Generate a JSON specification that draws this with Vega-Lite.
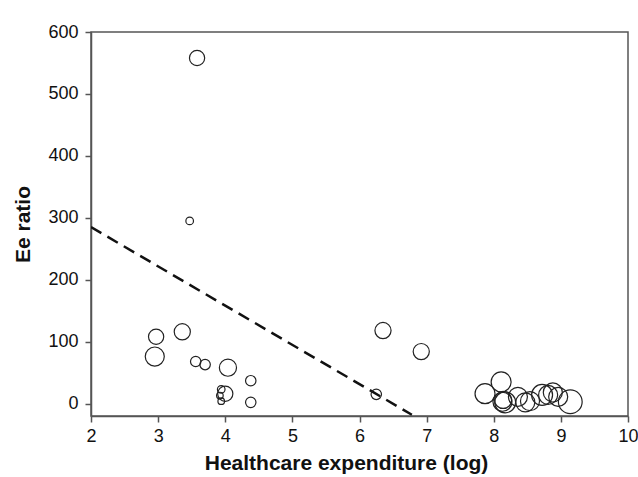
{
  "$schema": "https://vega.github.io/schema/vega-lite/v6.json",
  "autosize": {"type": "none"},
  "padding": {"left": 91, "top": 32, "right": 10, "bottom": 61},
  "width": 537,
  "height": 384,
  "background": "white",
  "config": {
    "view": {"stroke": "#555", "strokeWidth": 1.5},
    "axis": {
      "grid": false,
      "domainColor": "#555",
      "domainWidth": 1.5,
      "tickColor": "#555",
      "tickWidth": 1.5,
      "tickSize": 6,
      "labelFlush": false,
      "labelFont": "Liberation Sans",
      "labelFontSize": 18,
      "labelColor": "#111",
      "titleFont": "Liberation Sans",
      "titleFontSize": 21,
      "titleFontWeight": "bold",
      "titleColor": "#111"
    }
  },
  "datasets": {
    "countries": [
      {"hce": 3.58, "ee": 558, "n": 64},
      {"hce": 3.47, "ee": 295, "n": 16},
      {"hce": 2.97, "ee": 108, "n": 64},
      {"hce": 3.36, "ee": 116, "n": 72},
      {"hce": 2.95, "ee": 76, "n": 100},
      {"hce": 3.56, "ee": 68, "n": 30},
      {"hce": 3.70, "ee": 63, "n": 30},
      {"hce": 4.04, "ee": 58, "n": 81},
      {"hce": 4.38, "ee": 37, "n": 30},
      {"hce": 4.38, "ee": 2, "n": 30},
      {"hce": 4.00, "ee": 16, "n": 64},
      {"hce": 3.94, "ee": 23, "n": 16},
      {"hce": 3.92, "ee": 13, "n": 12},
      {"hce": 3.94, "ee": 4, "n": 12},
      {"hce": 6.25, "ee": 15, "n": 30},
      {"hce": 6.35, "ee": 118, "n": 72},
      {"hce": 6.92, "ee": 84, "n": 72},
      {"hce": 7.87, "ee": 16, "n": 110},
      {"hce": 8.11, "ee": 35, "n": 110},
      {"hce": 8.13, "ee": 3, "n": 100},
      {"hce": 8.17, "ee": 2, "n": 121},
      {"hce": 8.14, "ee": 6, "n": 81},
      {"hce": 8.36, "ee": 11, "n": 100},
      {"hce": 8.47, "ee": 2, "n": 100},
      {"hce": 8.54, "ee": 4, "n": 100},
      {"hce": 8.72, "ee": 14, "n": 121},
      {"hce": 8.81, "ee": 14, "n": 100},
      {"hce": 8.88, "ee": 18, "n": 100},
      {"hce": 8.96, "ee": 11, "n": 100},
      {"hce": 9.14, "ee": 3, "n": 156}
    ],
    "fit": [
      {"hce": 2.0, "ee": 285},
      {"hce": 6.78, "ee": -18}
    ]
  },
  "layer": [
    {
      "data": {"name": "fit"},
      "mark": {"type": "line", "color": "#111", "strokeWidth": 2.5, "strokeDash": [12, 7], "clip": true},
      "encoding": {
        "x": {
          "field": "hce", "type": "quantitative",
          "scale": {"domain": [2, 10], "nice": false, "zero": false},
          "axis": {"values": [2, 3, 4, 5, 6, 7, 8, 9, 10], "format": "d", "title": "Healthcare expenditure (log)", "labelPadding": 5, "titlePadding": 7, "titleX": 255}
        },
        "y": {
          "field": "ee", "type": "quantitative",
          "scale": {"domain": [-20, 600], "nice": false, "zero": false},
          "axis": {"values": [0, 100, 200, 300, 400, 500, 600], "format": "d", "title": "Ee ratio", "labelPadding": 7, "titlePadding": 14}
        }
      }
    },
    {
      "data": {"name": "countries"},
      "mark": {"type": "point", "shape": "circle", "filled": false, "stroke": "#222", "strokeWidth": 1.2, "opacity": 1},
      "encoding": {
        "x": {"field": "hce", "type": "quantitative"},
        "y": {"field": "ee", "type": "quantitative"},
        "size": {"field": "n", "type": "quantitative", "scale": {"domain": [0, 160], "range": [0, 580]}, "legend": null}
      }
    }
  ]
}
